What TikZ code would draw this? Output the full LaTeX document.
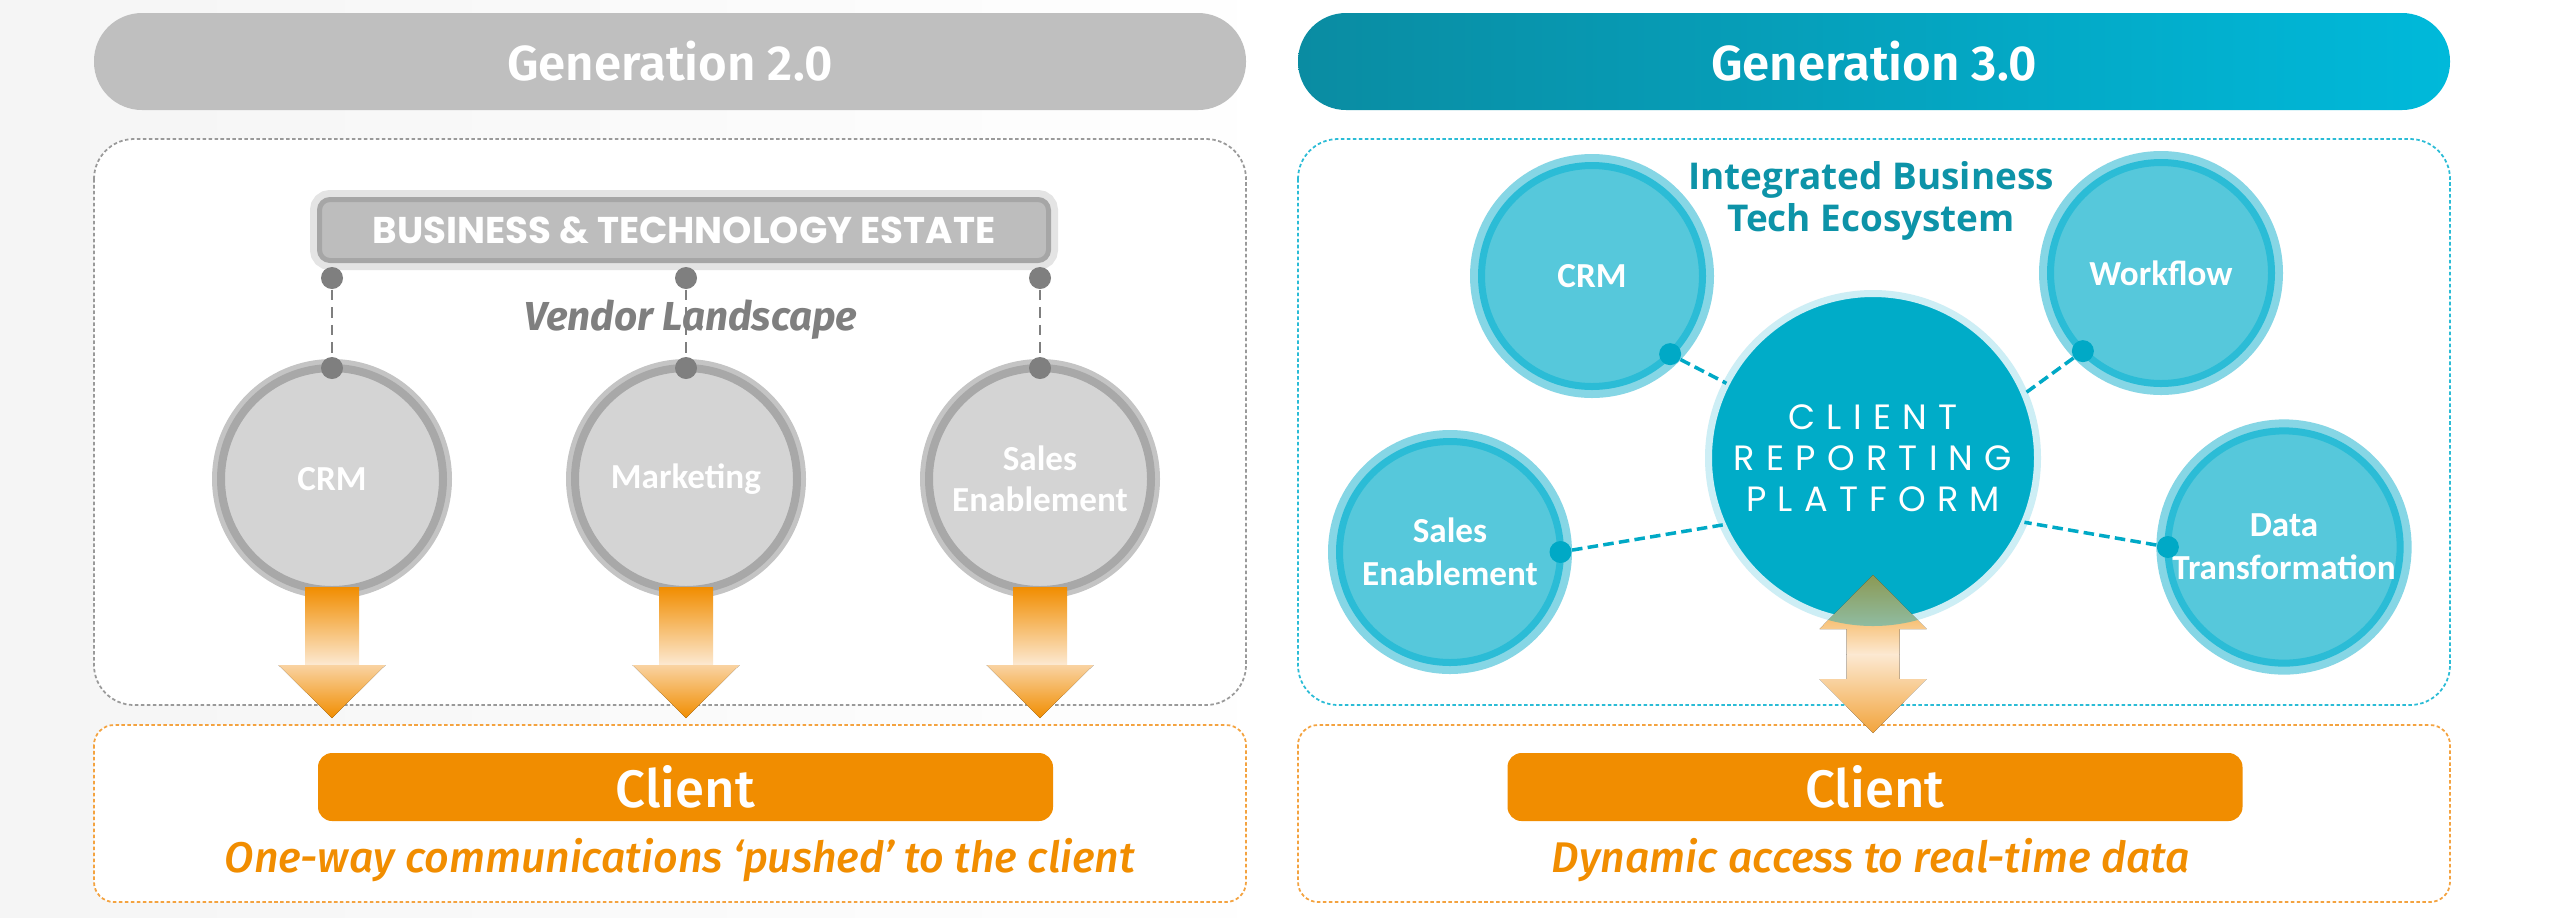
\documentclass[tikz,border=0pt]{standalone}
\usepackage{fontspec}
\setmainfont{Fira Sans}
\newfontfamily\medfont{Fira Sans}[UprightFont={* Medium}, ItalicFont={* Medium Italic}, BoldFont={* SemiBold}]
\newfontfamily\labelfont{Carlito}
\newfontfamily\ecofont{Open Sans}
\newfontfamily\capsfont{Poppins}
\newfontfamily\crpfont[LetterSpace=32]{Poppins}
\usepackage{xcolor}
\usepackage{tikz}
\usetikzlibrary{positioning}

\definecolor{hdrgray}{HTML}{BFBFBF}
\definecolor{ringgray}{HTML}{A8A8A8}
\definecolor{halogray}{HTML}{C4C4C4}
\definecolor{fillgray}{HTML}{D4D4D4}
\definecolor{dotgray}{HTML}{7F7F7F}
\definecolor{boxgray}{HTML}{BDBDBD}
\definecolor{edgegray}{HTML}{A6A6A6}
\definecolor{paleedge}{HTML}{E4E4E4}
\definecolor{panelgray}{HTML}{9A9A9A}
\definecolor{tealdark}{HTML}{0A8CA2}
\definecolor{tealbright}{HTML}{00B9DA}
\definecolor{tealfill}{HTML}{56C8DB}
\definecolor{tealring}{HTML}{2BBCD6}
\definecolor{tealhalo}{HTML}{86D6E5}
\definecolor{tealcore}{HTML}{00ACC8}
\definecolor{tealedge}{HTML}{CDEEF5}
\definecolor{tealdot}{HTML}{00A9C6}
\definecolor{tealtext}{HTML}{0D93A8}
\definecolor{clientorange}{HTML}{F18D00}
\definecolor{paleorange}{HTML}{FCE9D2}
\definecolor{headorange}{HTML}{F9D3A2}
\definecolor{tiporange}{HTML}{F2A43C}
\definecolor{panelorange}{HTML}{F4A340}

\begin{document}
\begin{tikzpicture}[x=1cm, y=-1cm,
  header/.style={rounded corners=0.48cm, minimum width=11.52cm, minimum height=0.97cm, text=white, font=\medfont\bfseries\fontsize{14}{16}\selectfont},
  panel/.style={rounded corners=0.4cm, line width=0.5pt, dash pattern=on 1pt off 0.7pt},
  estate/.style={fill=boxgray, draw=edgegray, line width=0.05cm, preaction={draw=paleedge, line width=0.19cm}, rounded corners=3pt, minimum width=7.29cm, minimum height=0.61cm, text=white, font=\capsfont\bfseries\fontsize{10.6}{12}\selectfont},
  vendor/.style={text=dotgray, font=\bfseries\itshape\fontsize{11.5}{14}\selectfont},
  gcirc/.style={circle, inner sep=0pt, outer sep=0pt, minimum size=2.22cm, fill=fillgray, draw=ringgray, line width=0.08cm, preaction={draw=halogray, line width=0.18cm}, text=white, align=center, font=\labelfont\bfseries\fontsize{10}{11.7}\selectfont},
  gdot/.style={circle, fill=dotgray, inner sep=0pt, minimum size=0.22cm},
  gdash/.style={draw=dotgray, line width=0.8pt, dash pattern=on 3pt off 2pt},
  tcirc/.style={circle, inner sep=0pt, outer sep=0pt, minimum size=2.21cm, fill=tealfill, draw=tealring, line width=0.07cm, preaction={draw=tealhalo, line width=0.23cm}, text=white, align=center, font=\labelfont\bfseries\fontsize{10}{12.3}\selectfont},
  crpcore/.style={circle, inner sep=0pt, outer sep=0pt, minimum size=3.29cm, fill=tealcore, draw=tealedge, line width=0.07cm, text=white, align=center, font=\crpfont\fontsize{10}{11.7}\selectfont},
  tdot/.style={circle, fill=tealdot, inner sep=0pt, minimum size=0.22cm},
  tdash/.style={draw=tealdot, line width=1pt, dash pattern=on 3pt off 1.5pt},
  ecotext/.style={text=tealtext, align=center, font=\ecofont\bfseries\fontsize{10.5}{12}\selectfont},
  client/.style={fill=clientorange, rounded corners=4pt, minimum width=7.35cm, minimum height=0.68cm, text=white, font=\medfont\fontsize{15}{18}\selectfont},
  pushed/.style={text=clientorange, font=\medfont\itshape\fontsize{12.2}{15}\selectfont},
  node distance=1.32cm]
  \useasboundingbox (0,0) rectangle (25.6,9.17);
  \fill[left color=black!4, right color=white] (0,0) rectangle (13,9.17);

  % headers
  \node[header, fill=hdrgray] (gen2) at (6.70,0.615) {Generation 2.0};
  \node[header, left color=tealdark, right color=tealbright] (gen3) at (18.74,0.615) {Generation 3.0};

  % panels
  \draw[panel, draw=panelgray, fill=white] (0.94,1.39) rectangle (12.46,7.05);
  \draw[panel, draw=tealring, fill=white] (12.98,1.39) rectangle (24.50,7.05);
  \draw[panel, draw=panelorange, fill=white, rounded corners=0.2cm] (0.94,7.25) rectangle (12.46,9.02);
  \draw[panel, draw=panelorange, fill=white, rounded corners=0.2cm] (12.98,7.25) rectangle (24.50,9.02);

  % generation 2.0
  \node[estate] (estate) at (6.84,2.30) {BUSINESS \& TECHNOLOGY ESTATE};
  \node[vendor] (vendor) at (6.91,3.20) {Vendor Landscape};
  \node[gcirc] (gcrm) at (3.32,4.79) {CRM};
  \node[gcirc, right=of gcrm] (gmkt) {Marketing};
  \node[gcirc, right=of gmkt] (gsales) {Sales\\Enablement};
  \coordinate (hookline) at (0,2.78);
  \foreach \n in {gcrm,gmkt,gsales} {
    \node[gdot] (\n-top) at (\n.north) {};
    \node[gdot] (\n-hook) at (\n |- hookline) {};
    \draw[gdash] (\n-hook) -- (\n-top);
    \fill[top color=clientorange, bottom color=paleorange, shift={(\n.south)}] (-0.27,-0.03) rectangle (0.27,0.75);
    \fill[top color=headorange, bottom color=clientorange, shift={(\n.south)}] (-0.535,0.75) -- (0.535,0.75) -- (0,1.28) -- cycle;
  }
  \node[client] (client2) at (6.855,7.87) {Client};
  \node[pushed] (note2) at (6.80,8.60) {One-way communications ‘pushed’ to the client};

  % generation 3.0
  \node[ecotext] (eco) at (18.71,2.01) {Integrated Business\\Tech Ecosystem};
  \node[tcirc] (tcrm) at (15.92,2.76) {CRM};
  \node[tcirc] (tflow) at (21.61,2.73) {Workflow};
  \node[tcirc] (tsales) at (14.50,5.52) {Sales\\Enablement};
  \node[tcirc] (tdata) at (22.84,5.47) {Data\\Transformation};
  \node[crpcore] (crp) at (18.73,4.58) {CLIENT\\REPORTING\\PLATFORM};
  \node[tdot] (tcrm-dot) at (tcrm.-45) {};
  \node[tdot] (tflow-dot) at (tflow.225) {};
  \node[tdot] (tsales-dot) at (tsales.east) {};
  \node[tdot] (tdata-dot) at (tdata.west) {};
  \draw[tdash] (tcrm-dot) -- (crp.153);
  \draw[tdash] (tflow-dot) -- (crp.23);
  \draw[tdash] (tsales-dot) -- (crp.204);
  \draw[tdash] (tdata-dot) -- (crp.-23);
  % two-way arrow, tinted where it crosses the platform
  \begin{scope}[shift={(crp.south)}]
    \fill[top color=clientorange, bottom color=paleorange]
      (0,-0.475) -- (0.535,0.065) -- (0.265,0.065) -- (0.265,0.32) -- (-0.265,0.32) -- (-0.265,0.065) -- (-0.535,0.065) -- cycle;
    \fill[top color=paleorange, bottom color=tiporange]
      (-0.265,0.315) -- (0.265,0.315) -- (0.265,0.565) -- (0.535,0.565) -- (0,1.105) -- (-0.535,0.565) -- (-0.265,0.565) -- cycle;
    \clip (0,-0.475) -- (0.535,0.065) -- (-0.535,0.065) -- cycle;
    \fill[tealcore, opacity=0.42] (crp.center) circle (1.68);
  \end{scope}
  \node[client] (client3) at (18.75,7.87) {Client};
  \node[pushed] (note3) at (18.71,8.60) {Dynamic access to real-time data};
\end{tikzpicture}
\end{document}
